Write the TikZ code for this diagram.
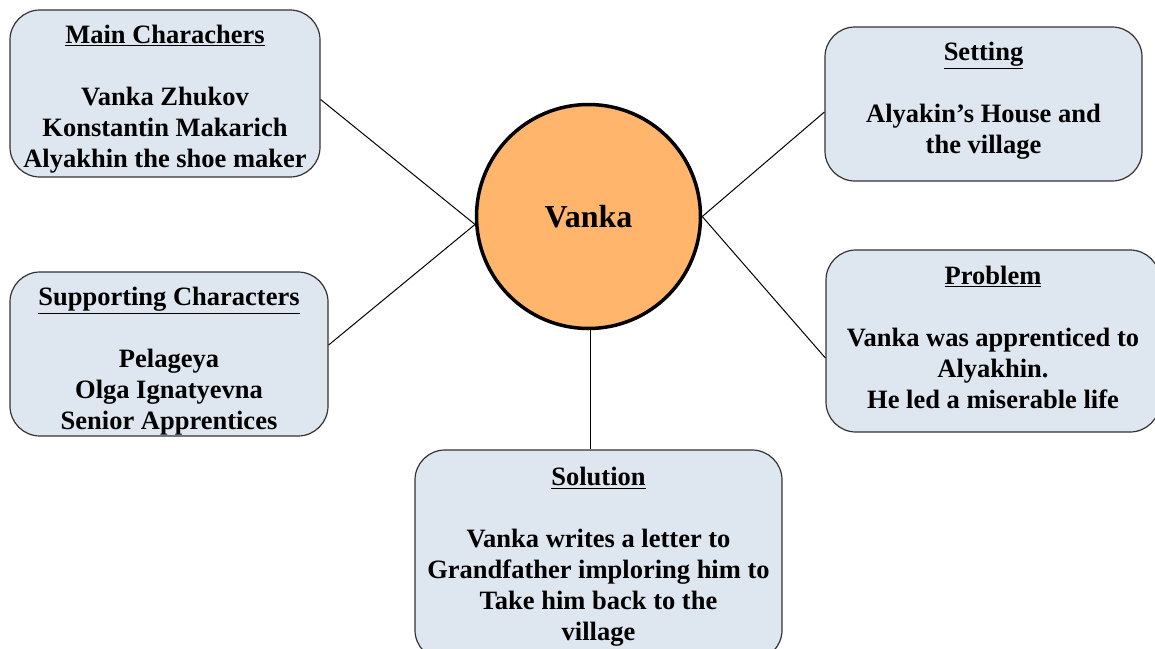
\documentclass[tikz,border=0pt]{standalone}
\usepackage{fontspec}
\setmainfont{Liberation Serif}
\usetikzlibrary{positioning}
\definecolor{boxblue}{HTML}{DEE6EF}
\definecolor{hubfill}{HTML}{FFB66C}

\begin{document}
\begin{tikzpicture}[x=1pt, y=-1pt,
  box/.style={draw=black!80, line width=1.2pt, fill=boxblue, rounded corners=30pt, inner sep=0pt},
  txt/.style={anchor=north, align=center, inner sep=0pt, font=\fontsize{26.5}{30.9}\selectfont\bfseries},
  hub/.style={circle, draw=black, line width=3.5pt, fill=hubfill, minimum size=224pt, inner sep=0pt, font=\fontsize{32}{36}\selectfont\bfseries},
  link/.style={line width=1pt}]
\useasboundingbox (0,0) rectangle (1155,648);
\clip (0,0) rectangle (1155,648);
\node[box, minimum width=310pt, minimum height=167pt] (main) at (165,93.5) {};
\node[box, minimum width=318pt, minimum height=164pt] (support) at (169,354) {};
\node[box, minimum width=317pt, minimum height=154pt] (setting) at (983.5,104) {};
\node[box, minimum width=334pt, minimum height=182pt] (problem) at (993,341) {};
\node[box, minimum width=367pt, minimum height=210pt] (solution) at (598.5,555) {};
\node[hub] (vanka) at (588.5,216.5) {Vanka};
\node[txt] (main-t) at ([yshift=-16pt]main.north) {\underline{Main Charachers}\\[30.9pt] Vanka Zhukov\\ Konstantin Makarich\\ Alyakhin the shoe maker};
\node[txt] (support-t) at ([yshift=-16pt]support.north) {\underline{Supporting Characters}\\[30.9pt] Pelageya\\ Olga Ignatyevna\\ Senior Apprentices};
\node[txt] (setting-t) at ([yshift=-16pt]setting.north) {\underline{Setting}\\[30.9pt] Alyakin’s House and\\ the village};
\node[txt] (problem-t) at ([yshift=-17pt]problem.north) {\underline{Problem}\\[30.9pt] Vanka was apprenticed to\\ Alyakhin.\\ He led a miserable life};
\node[txt] (solution-t) at ([yshift=-18pt]solution.north) {\underline{Solution}\\[30.9pt] Vanka writes a letter to\\ Grandfather imploring him to\\ Take him back to the\\ village};
\draw[link] ([yshift=-6pt]main.east) -- (vanka.184);
\draw[link] ([yshift=9pt]support.east) -- (vanka.184);
\draw[link] (vanka.east) -- ([yshift=-8pt]setting.west);
\draw[link] (vanka.east) -- ([yshift=-17pt]problem.west);
\draw[link] ([xshift=2pt]vanka.south) -- ([xshift=2pt]vanka.south |- solution.north);
\end{tikzpicture}
\end{document}
